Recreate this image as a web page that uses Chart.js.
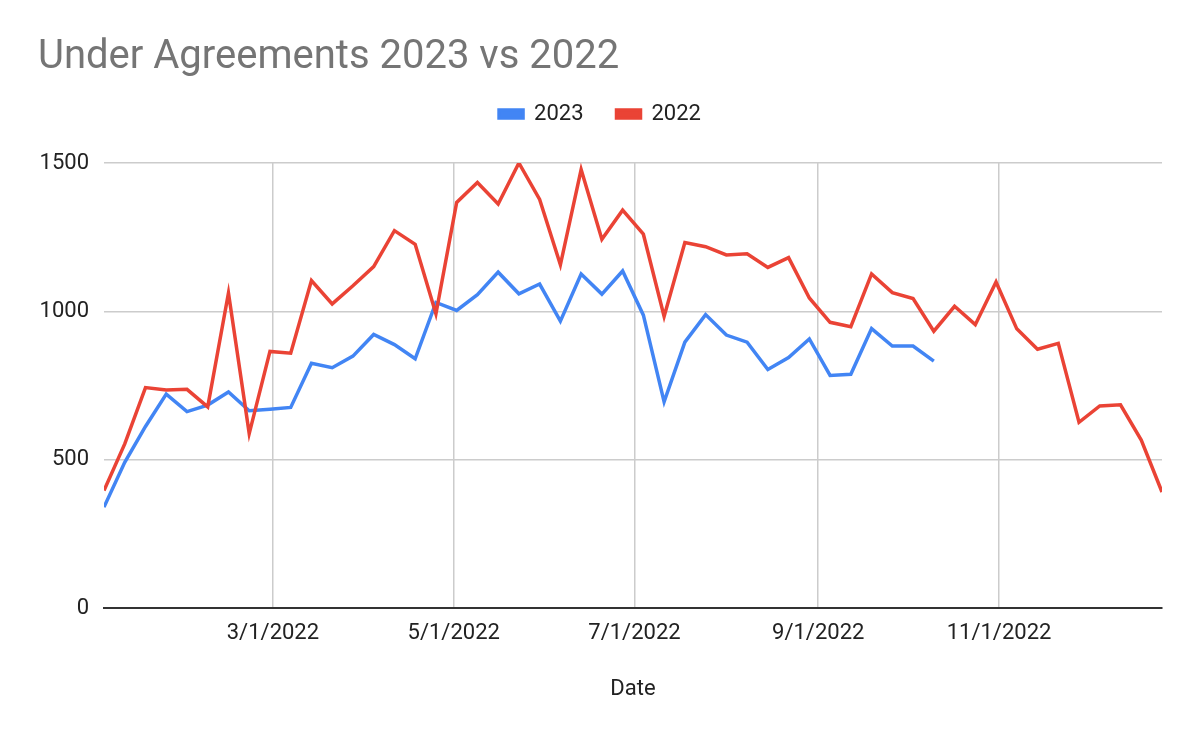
<!DOCTYPE html>
<html>
<head>
<meta charset="utf-8">
<script src="https://cdn.jsdelivr.net/npm/chart.js@4"></script>
<style>
  html, body { margin: 0; padding: 0; background: #fff; }
  #wrap { width: 1200px; height: 742px; }
</style>
</head>
<body>
<div id="wrap"><canvas id="uaChart" width="1200" height="742"></canvas></div>
<script>
// weekly dates (2022 calendar, both series plotted on it)
const weekDates = [
    '1/3/2022', '1/10/2022', '1/17/2022', '1/24/2022', '1/31/2022',
    '2/7/2022', '2/14/2022', '2/21/2022', '2/28/2022',
    '3/7/2022', '3/14/2022', '3/21/2022', '3/28/2022',
    '4/4/2022', '4/11/2022', '4/18/2022', '4/25/2022',
    '5/2/2022', '5/9/2022', '5/16/2022', '5/23/2022', '5/30/2022',
    '6/6/2022', '6/13/2022', '6/20/2022', '6/27/2022',
    '7/4/2022', '7/11/2022', '7/18/2022', '7/25/2022',
    '8/1/2022', '8/8/2022', '8/15/2022', '8/22/2022', '8/29/2022',
    '9/5/2022', '9/12/2022', '9/19/2022', '9/26/2022',
    '10/3/2022', '10/10/2022', '10/17/2022', '10/24/2022', '10/31/2022',
    '11/7/2022', '11/14/2022', '11/21/2022', '11/28/2022',
    '12/5/2022', '12/12/2022', '12/19/2022', '12/26/2022',
];

const ua2023 = [
    340, 491, 612, 721, 662, 684, 728, 665, 670, 676,
    825, 810, 849, 922, 888, 840, 1030, 1003, 1056, 1132,
    1059, 1092, 967, 1126, 1058, 1136, 987, 695, 896, 989,
    920, 896, 804, 844, 907, 784, 788, 942, 883, 883,
    832,
];

const ua2022 = [
    396, 553, 743, 735, 737, 678, 1062, 588, 865, 859,
    1104, 1025, 1086, 1151, 1272, 1226, 992, 1367, 1434, 1362,
    1500, 1377, 1157, 1478, 1243, 1341, 1260, 983, 1232, 1218,
    1190, 1194, 1148, 1181, 1045, 963, 948, 1126, 1063, 1043,
    933, 1017, 955, 1099, 941, 872, 892, 626, 681, 685,
    566, 391,
];

const xTickLabels = ['3/1/2022', '5/1/2022', '7/1/2022', '9/1/2022', '11/1/2022'];
const yTicks = [0, 500, 1000, 1500];

// day number within 2022 for an m/d/yyyy string
function dayOf(s) {
    const [m, d, y] = s.split('/').map(Number);
    return (Date.UTC(y, m - 1, d) - Date.UTC(2022, 0, 1)) / 86400000;
}

const xDays = weekDates.map(dayOf);
const xTickDays = xTickLabels.map(dayOf);
const toPoints = (vals) => vals.map((v, i) => ({ x: xDays[i], y: v }));

const FONT = 'Roboto, "Liberation Sans", Arial, sans-serif';
const ctx = document.getElementById('uaChart');

new Chart(ctx, {
    type: 'line',
    data: {
        datasets: [
            {
                label: '2023',
                data: toPoints(ua2023),
                borderColor: '#4285F4',
                backgroundColor: '#4285F4',
                borderWidth: 3.5,
                pointRadius: 0,
                tension: 0,
                order: 1,
            },
            {
                label: '2022',
                data: toPoints(ua2022),
                borderColor: '#EA4335',
                backgroundColor: '#EA4335',
                borderWidth: 3.5,
                pointRadius: 0,
                tension: 0,
                order: 0,
            },
        ],
    },
    options: {
        responsive: false,
        animation: false,
        devicePixelRatio: 1,
        layout: { padding: { left: 38, right: 38, top: 0, bottom: 0 } },
        plugins: {
            tooltip: { enabled: false },
            title: {
                display: true,
                text: 'Under Agreements 2023 vs 2022',
                align: 'start',
                color: '#757575',
                font: { family: FONT, size: 40, weight: 'normal', lineHeight: 0.6 },
                padding: { top: 46, bottom: 0 },
            },
            // empty spacer between legend and plot area
            subtitle: {
                display: true,
                text: '',
                weight: 500,
                font: { family: FONT, size: 28, lineHeight: 1 },
                padding: 0,
            },
            legend: {
                position: 'top',
                align: 'center',
                labels: {
                    boxWidth: 24,
                    boxHeight: 8,
                    padding: 33,
                    color: '#222222',
                    font: { family: FONT, size: 22 },
                    sort: (a, b) => a.datasetIndex - b.datasetIndex,
                },
            },
        },
        scales: {
            x: {
                type: 'linear',
                min: xDays[0],
                max: xDays[xDays.length - 1],
                afterBuildTicks: (scale) => {
                    scale.ticks = xTickDays.map((v) => ({ value: v }));
                },
                afterFit: (scale) => {
                    scale.height = 134;
                    scale.paddingLeft = 0;
                    scale.paddingRight = 0;
                },
                ticks: {
                    autoSkip: false,
                    maxRotation: 0,
                    padding: 12,
                    color: '#222222',
                    font: { family: FONT, size: 22 },
                    callback: (value, index) => xTickLabels[index],
                },
                grid: { color: '#cccccc', lineWidth: 1.5, drawTicks: false },
                border: { display: true, color: '#333333', width: 2 },
                title: {
                    display: true,
                    text: 'Date',
                    color: '#222222',
                    font: { family: FONT, size: 22 },
                    padding: { top: 0, bottom: 39 },
                },
            },
            y: {
                min: 0,
                max: 1500,
                afterBuildTicks: (scale) => {
                    scale.ticks = yTicks.map((v) => ({ value: v }));
                },
                afterFit: (scale) => {
                    scale.width = 66;
                },
                ticks: {
                    padding: 15,
                    color: '#222222',
                    font: { family: FONT, size: 22 },
                    callback: (value) => String(value),
                },
                grid: { color: '#cccccc', lineWidth: 1.5, drawTicks: false },
                border: { display: false },
            },
        },
    },
});
</script>
</body>
</html>
